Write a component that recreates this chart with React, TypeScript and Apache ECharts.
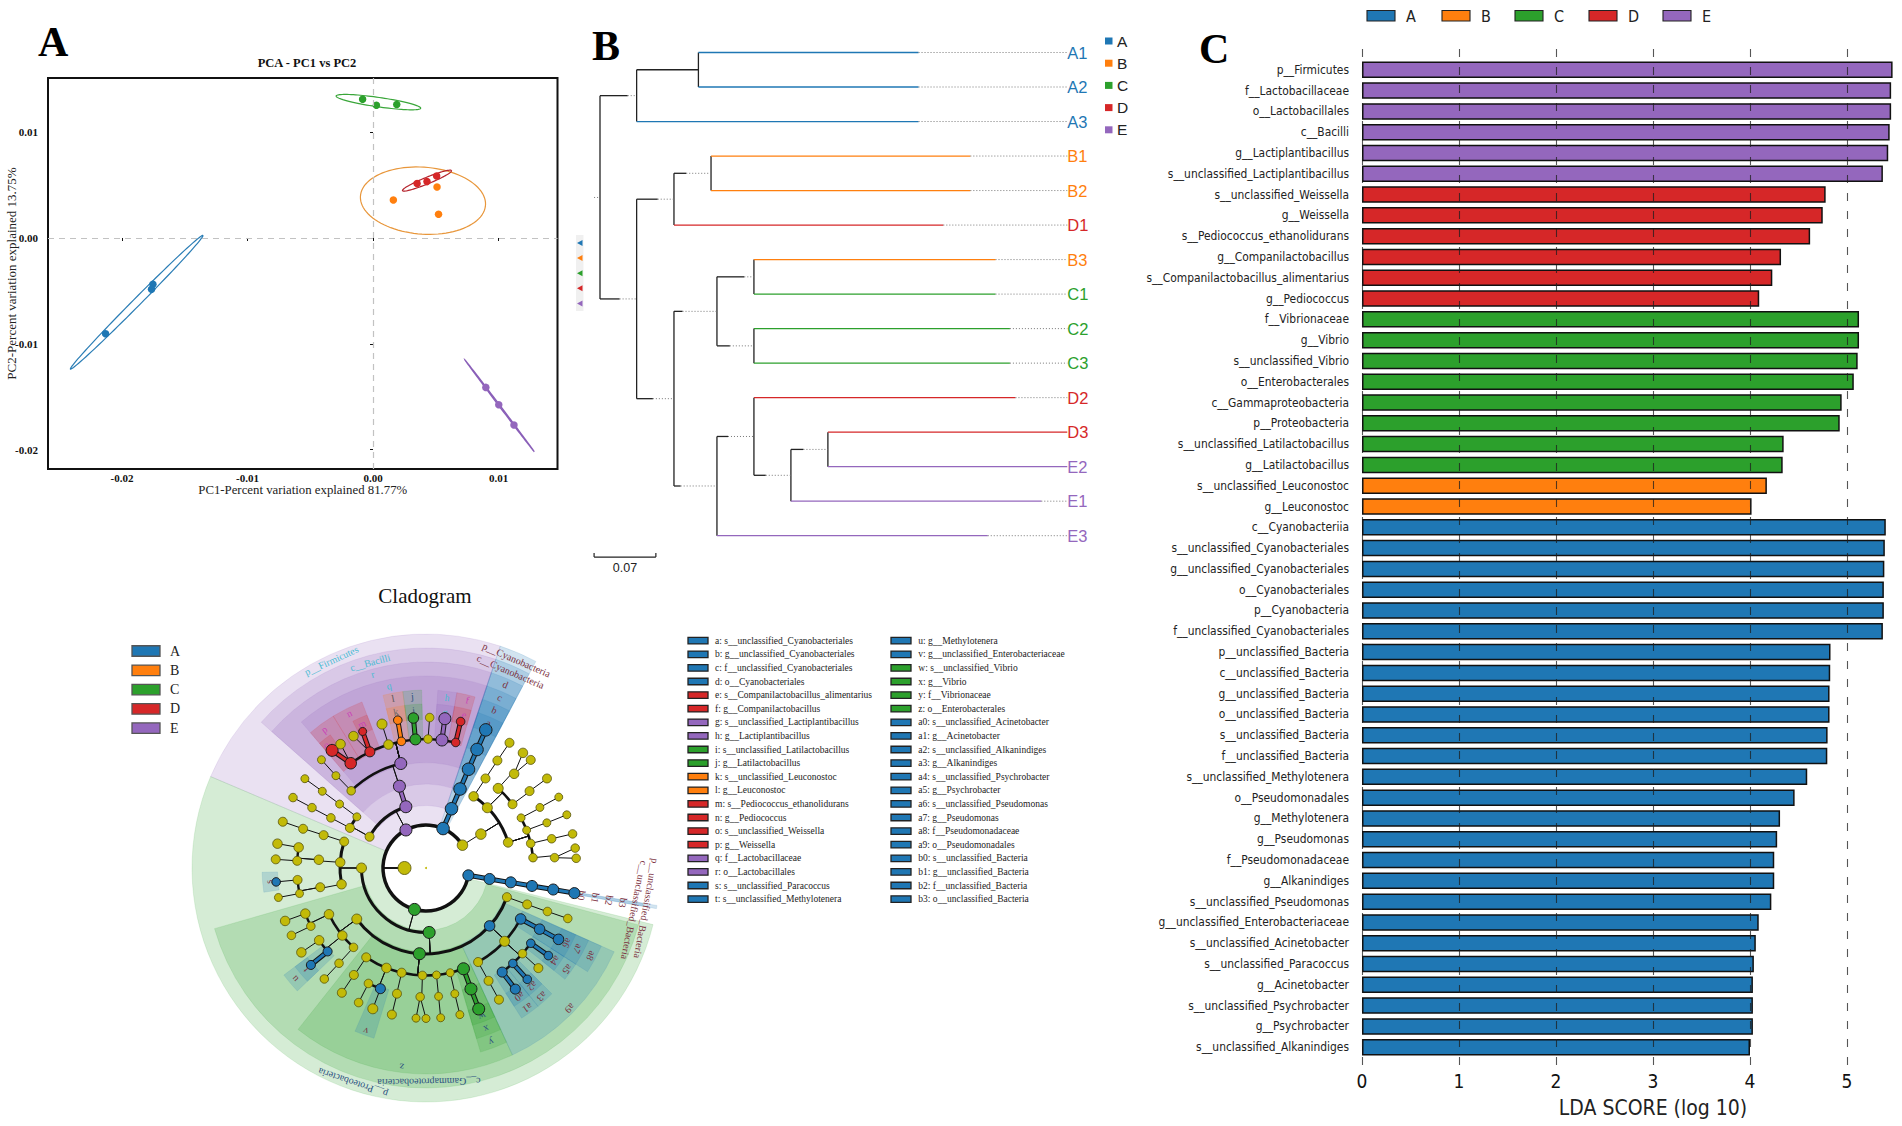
import React, { useEffect, useRef } from "react";
import * as echarts from "echarts";

const SERIF = "Liberation Serif";
const SANS = "Liberation Sans";
const NARROW = "DejaVu Sans Condensed, Liberation Sans Narrow, DejaVu Sans";

const groupNames = ["A", "B", "C", "D", "E"];
const groupColors: Record<string, string> = { A: "#1f77b4", B: "#ff7f0e", C: "#2ca02c", D: "#d62728", E: "#9467bd", y: "#c2ba08" };

/* ---------- Panel A: PCA ---------- */
const pcaPoints: Record<string, number[][]> = {
  A: [[-0.01754, -0.00438], [-0.01765, -0.00485], [-0.02131, -0.00905]],
  B: [[0.00162, 0.00359], [0.0051, 0.00482], [0.00522, 0.00224]],
  C: [[-0.00083, 0.01311], [0.00027, 0.01254], [0.00189, 0.01261]],
  D: [[0.00351, 0.00514], [0.0043, 0.00533], [0.00507, 0.00586]],
  E: [[0.00899, -0.01412], [0.01002, -0.01576], [0.01123, -0.01768]],
};
// centre x, centre y, then two conjugate radius vectors of each confidence ellipse
const pcaEllipses: Record<string, number[]> = {
  A: [-0.01883, -0.00607, 0.00528, 0.00632, 0.00024, -0.00022],
  B: [0.00398, 0.00353, 0.00498, -0.00016, -0.00024, 0.00318],
  C: [0.00043, 0.01284, 0.00337, -0.00058, -0.00006, -0.00044],
  D: [0.0043, 0.00542, 0.00195, 0.00095, 0.00012, -0.00028],
  E: [0.01008, -0.01585, 0.00277, -0.00435, 0.00004, 0.00003],
};
const pcaEllipseColors: Record<string, string> = { A: "#2a7db5", B: "#e8963a", C: "#3aa63a", D: "#b5232c", E: "#8a5fb8" };
const pcaXTicks = [-0.02, -0.01, 0, 0.01];
const pcaYTicks = [-0.02, -0.01, 0, 0.01];

/* ---------- Panel B: tree ---------- */
const treeTipDepth = 0.5294;
// label, group, row, depth of parent, depth of leaf
const treeLeaves: [string, string, number, number, number][] = [
  ["A1", "A", 0, 0.1115, 0.3609],
  ["A2", "A", 1, 0.1115, 0.3609],
  ["A3", "A", 2, 0.0415, 0.3609],
  ["B1", "B", 3, 0.1258, 0.4196],
  ["B2", "B", 4, 0.1258, 0.4196],
  ["D1", "D", 5, 0.0838, 0.389],
  ["B3", "B", 6, 0.1744, 0.4481],
  ["C1", "C", 7, 0.1744, 0.4481],
  ["C2", "C", 8, 0.1744, 0.4644],
  ["C3", "C", 9, 0.1744, 0.4644],
  ["D2", "D", 10, 0.1744, 0.4707],
  ["D3", "D", 11, 0.2582, 0.5294],
  ["E2", "E", 12, 0.2582, 0.5294],
  ["E1", "E", 13, 0.2163, 0.5],
  ["E3", "E", 14, 0.1325, 0.4393],
];
// parent depth, end of solid stem, node depth, row of stem, top row, bottom row
const treeNodes: number[][] = [
  [0, 0.0314, 0.0415, 1.25, 0.5, 2],
  [0.0415, 0.1115, 0.1115, 0.5, 0, 1],
  [0, 0.0222, 0.0415, 7.14, 4.25, 10.03],
  [0.0415, 0.0654, 0.0838, 4.25, 3.5, 5],
  [0.0838, 0.0977, 0.1258, 3.5, 3, 4],
  [0.0415, 0.0599, 0.0838, 10.03, 7.5, 12.56],
  [0.0838, 0.0935, 0.1325, 7.5, 6.5, 8.5],
  [0.1325, 0.1635, 0.1744, 6.5, 6, 7],
  [0.1325, 0.1471, 0.1744, 8.5, 8, 9],
  [0.0838, 0.0914, 0.1325, 12.56, 11.125, 14],
  [0.1325, 0.145, 0.1744, 11.125, 10, 12.25],
  [0.1744, 0.1878, 0.2163, 12.25, 11.5, 13],
  [0.2163, 0.2305, 0.2582, 11.5, 11, 12],
];
const treeRoot = [-0.0067, 0, 4.2, 1.25, 7.14];
const treeScale = { from: -0.0067, to: 0.0633, row: 14.62, label: "0.07" };

/* ---------- Cladogram: level, angle (deg clockwise from top), group, node size ---------- */
const cladoRoot: [number, number, string, number][] = [[0, 0, "y", 2], [1, 270, "y", 13]];
const cladoUnclassified: [number, number, string, number][] = [
  [2, 99.8, "A", 11], [3, 99.8, "A", 11], [4, 99.6, "A", 11], [5, 99.6, "A", 11], [6, 99.6, "A", 11], [7, 99.6, "A", 11],
];
const cladoProteobacteria: [number, number, string, number][] = [
  [2, 195.5, "C", 12],
  [3, 270, "y", 10],
  [4, 287.9, "y", 9], [5, 287.8, "y", 9], [6, 287.7, "y", 9], [7, 287.9, "y", 9],
  [4, 273.8, "y", 9.5], [5, 274.4, "y", 9.5], [6, 279.2, "y", 9.5], [7, 279.3, "y", 9.5], [6, 273.2, "y", 9], [7, 273.3, "y", 9],
  [4, 259.1, "y", 9.5], [5, 259.7, "y", 9], [6, 264.7, "y", 9], [7, 264.7, "A", 8.5], [6, 258.6, "y", 8], [7, 258.7, "y", 8],
  [3, 177.2, "C", 12],
  [4, 233.6, "y", 10],
  [5, 244.5, "y", 9.5], [6, 249.3, "y", 9.5], [7, 249.4, "y", 9.5], [6, 243.2, "y", 8.5], [7, 243.4, "y", 8.5],
  [5, 231.1, "y", 9.5], [6, 235.9, "y", 9.5], [7, 235.9, "y", 9.5], [6, 229.7, "A", 9], [7, 229.9, "A", 9],
  [5, 222.4, "y", 8.5], [6, 222.4, "y", 8.5], [7, 222.5, "y", 8.5],
  [4, 184.4, "C", 12],
  [5, 213.8, "y", 9], [6, 214, "y", 9], [7, 214, "y", 9],
  [5, 201.6, "y", 9.5], [6, 206.5, "y", 8.5], [7, 206.6, "y", 8.5], [6, 200.7, "A", 10], [7, 200.7, "y", 10],
  [5, 193.1, "y", 9], [6, 193, "y", 9], [7, 193.1, "y", 9],
  [5, 181.9, "y", 8.5], [6, 182.6, "y", 8.5], [7, 183.8, "y", 8], [7, 180, "y", 8],
  [5, 174.4, "y", 8], [6, 174.4, "y", 8], [7, 174.4, "y", 8],
  [5, 167, "y", 8], [6, 167.1, "y", 8], [7, 167, "y", 8],
  [5, 159.6, "C", 12], [6, 159.6, "C", 12], [7, 159.5, "C", 12],
  [4, 132.3, "A", 10.5],
  [5, 118.3, "A", 10.5], [6, 118.3, "A", 10.5], [7, 118.3, "A", 10.5],
  [5, 133, "y", 10],
  [6, 125.7, "A", 8.5], [7, 125.6, "A", 8.5],
  [6, 131.6, "y", 8.5], [7, 131.7, "y", 9],
  [6, 137.7, "A", 8.5], [7, 137.7, "A", 8.5],
  [6, 143.8, "A", 10], [7, 143.6, "A", 10],
  [5, 151, "y", 9], [6, 151, "y", 9], [7, 151, "y", 9],
  [4, 109.8, "y", 9], [5, 109.8, "y", 9], [6, 109.7, "y", 8.5], [7, 109.6, "y", 8.5],
];
const cladoFirmicutes: [number, number, string, number][] = [
  [2, 332.2, "E", 12],
  [3, 299, "y", 9],
  [4, 297.8, "y", 9], [5, 297.8, "y", 8.5], [6, 297.9, "y", 8.5], [7, 297.9, "y", 8.5],
  [4, 306.5, "y", 8], [5, 306.5, "y", 8], [6, 306.5, "y", 8], [7, 306.4, "y", 8],
  [3, 341.8, "E", 12],
  [4, 342, "E", 12],
  [5, 315.9, "y", 8.5], [6, 315.7, "y", 8], [7, 316, "y", 8],
  [5, 346.4, "E", 12],
  [6, 324.3, "D", 11.5], [7, 321.4, "D", 12], [7, 325.4, "y", 9.5],
  [6, 334.2, "D", 10], [7, 335.1, "D", 8], [7, 331.2, "y", 9.5],
  [6, 343.1, "y", 9.5], [7, 343, "y", 10],
  [6, 349, "B", 8.5], [7, 349.2, "B", 8.5],
  [6, 355.3, "C", 11], [7, 355.2, "C", 10.5],
  [6, 360.9, "y", 8.5], [7, 361.4, "y", 8.5],
  [6, 367.1, "E", 12], [7, 367.2, "E", 12],
  [6, 373.3, "D", 8.5], [7, 373.3, "D", 8.5],
];
const cladoCyanobacteria: [number, number, string, number][] = [
  [2, 383.4, "A", 12.5], [3, 383.3, "A", 12.5], [4, 383.3, "A", 12.5], [5, 383.3, "A", 12.5], [6, 383.3, "A", 12.5], [7, 383.4, "A", 12.5],
];
const cladoOtherPhylum: [number, number, string, number][] = [
  [2, 418, "y", 10.5], [3, 418.3, "y", 10.5],
  [4, 393.6, "y", 9.5], [5, 393.6, "y", 9], [6, 393.6, "y", 9], [7, 393.7, "y", 9],
  [4, 405.5, "y", 10], [5, 402.2, "y", 10], [6, 403.1, "y", 9.5], [7, 400.1, "y", 9.5], [7, 404.1, "y", 9],
  [5, 413.6, "y", 9], [6, 413.4, "y", 9], [7, 413.5, "y", 9],
  [4, 432.7, "y", 9.5],
  [5, 422.2, "y", 8], [6, 422, "y", 8], [7, 421.9, "y", 8],
  [5, 429.4, "y", 8], [6, 429.5, "y", 8], [7, 429.3, "y", 8],
  [5, 436.8, "y", 8.5], [6, 436.9, "y", 8.5], [7, 436.9, "y", 8.5],
  [5, 444.5, "y", 8.5], [6, 445.4, "y", 8.5], [7, 442.4, "y", 8.5], [7, 446.3, "y", 8.5],
];
const cladoRows = [...cladoRoot, ...cladoUnclassified, ...cladoProteobacteria, ...cladoFirmicutes, ...cladoCyanobacteria, ...cladoOtherPhylum];

// level, from angle, to angle, group
const cladoSectors: [number, number, number, string][] = [
  [2, 293, 378.5, "E"], [2, 104, 293, "C"], [2, 378.5, 388, "A"], [2, 99.2, 100, "A"], [3, 99.2, 100, "A"],
  [3, 311.5, 378.5, "E"], [3, 105, 254, "C"], [3, 378.5, 388, "A"],
  [4, 311.5, 378.5, "E"], [4, 378.5, 388, "A"], [4, 155.2, 218.4, "C"], [4, 114, 155.2, "A"],
  [5, 319.5, 378.5, "E"], [5, 378.5, 388, "A"], [5, 155.2, 163.5, "C"], [5, 114, 122.7, "A"],
  [6, 319.5, 328.6, "D"], [7, 319.5, 324.3, "D"], [6, 328.6, 338.9, "D"], [7, 333.5, 338.9, "D"],
  [6, 346, 352.5, "B"], [7, 346, 352.5, "B"], [6, 352.5, 358.6, "C"], [7, 352.5, 358.6, "C"],
  [6, 363.8, 370, "E"], [7, 363.8, 370, "E"], [6, 370, 376, "D"], [7, 370, 376, "D"],
  [6, 378.5, 388, "A"], [7, 378.5, 388, "A"],
  [6, 155.2, 163.5, "C"], [7, 155.2, 163.5, "C"], [6, 114, 122.7, "A"], [7, 114, 122.7, "A"],
  [6, 122.7, 128.7, "A"], [7, 122.7, 128.7, "A"], [6, 135, 141, "A"], [7, 135, 141, "A"], [6, 141, 147.5, "A"], [7, 141, 147.5, "A"],
  [6, 226.3, 233, "A"], [7, 226.3, 233, "A"], [6, 197, 203.5, "A"], [7, 261.5, 268.5, "A"],
];
const cyan = "#4bbcd2", magenta = "#c944b8", maroon = "#7b3040", navy = "#2a4f80";
// text, radius, angle, colour
const cladoLabels: [string, number, number, string][] = [
  ["p__Firmicutes", 228, 335.5, cyan], ["c__Bacilli", 213, 344.8, cyan], ["r", 201, 344.6, cyan], ["q", 186, 348.5, cyan],
  ["l", 173, 349, "#555"], ["j", 172.5, 355.5, navy], ["k", 159, 349, "#666"], ["i", 158, 355.5, navy],
  ["n", 172.7, 333.6, magenta], ["p", 172, 323.7, magenta], ["m", 157.6, 336, magenta], ["o", 158.5, 320.9, magenta],
  ["h", 171.7, 7.1, cyan], ["f", 173, 13.9, magenta], ["g", 157, 7, cyan], ["e", 158, 14, magenta],
  ["d", 200, 23.4, maroon], ["c", 186, 23.4, maroon], ["b", 172, 23.4, maroon], ["a", 158, 23.4, maroon],
  ["p__Cyanobacteria", 227, 23.5, maroon], ["c__Cyanobacteria", 213.8, 23.3, maroon],
  ["p__unclassified_Bacteria", 224, 100.4, maroon], ["c__unclassified_Bacteria", 212.5, 101.4, maroon],
  ["b0", 158, 100, maroon], ["b1", 172, 100, maroon], ["b2", 186, 100, maroon], ["b3", 200, 100, maroon],
  ["p__Proteobacteria", 227, 198.8, navy], ["c__Gammaproteobacteria", 214, 179.2, navy], ["z", 200.8, 187, navy],
  ["y", 186, 159.4, navy], ["x", 172, 159.4, navy], ["w", 159, 159.2, navy],
  ["a9", 201, 134.3, maroon], ["a8", 187, 118, maroon], ["a7", 172, 118, maroon], ["a6", 160, 118, maroon],
  ["a5", 174, 125.6, maroon], ["a4", 159, 125.6, maroon], ["a3", 173, 138, maroon], ["a2", 159, 138, maroon],
  ["a1", 173, 144, maroon], ["a0", 159, 144, maroon],
  ["s", 158, 265, maroon], ["u", 172, 229.8, maroon], ["t", 158, 229.8, maroon], ["v", 174, 200.3, maroon],
];
const cladoKeyColumn1: [string, string][] = [
  ["a: s__unclassified_Cyanobacteriales", "A"], ["b: g__unclassified_Cyanobacteriales", "A"], ["c: f__unclassified_Cyanobacteriales", "A"], ["d: o__Cyanobacteriales", "A"],
  ["e: s__Companilactobacillus_alimentarius", "D"], ["f: g__Companilactobacillus", "D"], ["g: s__unclassified_Lactiplantibacillus", "E"], ["h: g__Lactiplantibacillus", "E"],
  ["i: s__unclassified_Latilactobacillus", "C"], ["j: g__Latilactobacillus", "C"], ["k: s__unclassified_Leuconostoc", "B"], ["l: g__Leuconostoc", "B"],
  ["m: s__Pediococcus_ethanolidurans", "D"], ["n: g__Pediococcus", "D"], ["o: s__unclassified_Weissella", "D"], ["p: g__Weissella", "D"],
  ["q: f__Lactobacillaceae", "E"], ["r: o__Lactobacillales", "E"], ["s: s__unclassified_Paracoccus", "A"], ["t: s__unclassified_Methylotenera", "A"],
];
const cladoKeyColumn2: [string, string][] = [
  ["u: g__Methylotenera", "A"], ["v: g__unclassified_Enterobacteriaceae", "A"], ["w: s__unclassified_Vibrio", "C"], ["x: g__Vibrio", "C"],
  ["y: f__Vibrionaceae", "C"], ["z: o__Enterobacterales", "C"], ["a0: s__unclassified_Acinetobacter", "A"], ["a1: g__Acinetobacter", "A"],
  ["a2: s__unclassified_Alkanindiges", "A"], ["a3: g__Alkanindiges", "A"], ["a4: s__unclassified_Psychrobacter", "A"], ["a5: g__Psychrobacter", "A"],
  ["a6: s__unclassified_Pseudomonas", "A"], ["a7: g__Pseudomonas", "A"], ["a8: f__Pseudomonadaceae", "A"], ["a9: o__Pseudomonadales", "A"],
  ["b0: s__unclassified_Bacteria", "A"], ["b1: g__unclassified_Bacteria", "A"], ["b2: f__unclassified_Bacteria", "A"], ["b3: o__unclassified_Bacteria", "A"],
];

/* ---------- Panel C: LDA bars ---------- */
const ldaNames = [
  "p__Firmicutes", "f__Lactobacillaceae", "o__Lactobacillales", "c__Bacilli", "g__Lactiplantibacillus", "s__unclassified_Lactiplantibacillus",
  "s__unclassified_Weissella", "g__Weissella", "s__Pediococcus_ethanolidurans", "g__Companilactobacillus", "s__Companilactobacillus_alimentarius", "g__Pediococcus",
  "f__Vibrionaceae", "g__Vibrio", "s__unclassified_Vibrio", "o__Enterobacterales", "c__Gammaproteobacteria", "p__Proteobacteria",
  "s__unclassified_Latilactobacillus", "g__Latilactobacillus", "s__unclassified_Leuconostoc", "g__Leuconostoc",
  "c__Cyanobacteriia", "s__unclassified_Cyanobacteriales", "g__unclassified_Cyanobacteriales", "o__Cyanobacteriales", "p__Cyanobacteria", "f__unclassified_Cyanobacteriales",
  "p__unclassified_Bacteria", "c__unclassified_Bacteria", "g__unclassified_Bacteria", "o__unclassified_Bacteria", "s__unclassified_Bacteria", "f__unclassified_Bacteria",
  "s__unclassified_Methylotenera", "o__Pseudomonadales", "g__Methylotenera", "g__Pseudomonas", "f__Pseudomonadaceae", "g__Alkanindiges", "s__unclassified_Pseudomonas",
  "g__unclassified_Enterobacteriaceae", "s__unclassified_Acinetobacter", "s__unclassified_Paracoccus", "g__Acinetobacter", "s__unclassified_Psychrobacter", "g__Psychrobacter", "s__unclassified_Alkanindiges",
];
const ldaValues = [
  5.47, 5.455, 5.455, 5.44, 5.425, 5.37, 4.78, 4.75, 4.62, 4.32, 4.23, 4.095,
  5.124, 5.124, 5.11, 5.07, 4.945, 4.925, 4.347, 4.337, 4.174, 4.016,
  5.4, 5.39, 5.385, 5.38, 5.38, 5.37, 4.83, 4.827, 4.82, 4.82, 4.8, 4.797,
  4.59, 4.46, 4.31, 4.28, 4.25, 4.25, 4.22, 4.09, 4.06, 4.04, 4.03, 4.03, 4.03, 4.0,
];
const ldaGroups = "EEEEEEDDDDDDCCCCCCCCBB" + "A".repeat(26);

/* ---------- builders ---------- */
const levelRadius = (k: number) => 21.5 * k;
const sectorInner = (k: number) => levelRadius(k) - (k === 2 ? 0 : 2);
const sectorOuter = (k: number) => 234 - (k - 2) * 14;
const toRad = (a: number) => ((a - 90) * Math.PI) / 180;

type Edge = { level: number; pAngle: number; angle: number; group: string; pGroup: string };
function buildClado() {
  const stack: (typeof cladoRows)[number][] = [];
  const edges: Edge[] = [];
  const arcs = new Map<(typeof cladoRows)[number], { level: number; lo: number; hi: number }>();
  cladoRows.forEach((row) => {
    const [level, angle, group] = row;
    stack[level] = row;
    if (level < 2) return;
    const parent = stack[level - 1];
    edges.push({ level, pAngle: parent[1], angle, group, pGroup: parent[2] });
    if (level < 7) {
      const a = arcs.get(parent) || { level, lo: Math.min(parent[1], angle), hi: Math.max(parent[1], angle) };
      a.lo = Math.min(a.lo, angle);
      a.hi = Math.max(a.hi, angle);
      arcs.set(parent, a);
    }
  });
  return { edges, arcs: Array.from(arcs.values()) };
}

function legendKeys(rows: [string, string][], rectX: number, textX: number, top: number, step: number, w: number, h: number, font: number, border: string) {
  const out: any[] = [];
  rows.forEach(([label, g], i) => {
    const y = top + i * step;
    out.push({ type: "rect", shape: { x: rectX, y: y - h / 2, width: w, height: h }, style: { fill: groupColors[g], stroke: border, lineWidth: 1.3 } });
    out.push({ type: "text", x: textX, y, style: { text: label, fill: "#222", fontFamily: SERIF, fontSize: font, align: "left", verticalAlign: "middle" } });
  });
  return out;
}

function letter(text: string, x: number, y: number) {
  return { type: "text", x, y, style: { text, fill: "#000", fontFamily: SERIF, fontWeight: "bold", fontSize: 42, align: "left", verticalAlign: "middle" } };
}

function buildGraphics() {
  const g: any[] = [letter("A", 38, 42), letter("B", 592, 46), letter("C", 1199, 49)];
  g.push({ type: "text", x: 425, y: 596, style: { text: "Cladogram", fill: "#111", fontFamily: SERIF, fontSize: 21, align: "center", verticalAlign: "middle" } });
  // PCA little key
  g.push({ type: "rect", shape: { x: 576, y: 235, width: 7.5, height: 76 }, style: { fill: "#f0f0f0" } });
  groupNames.forEach((n, i) => {
    const y = 243 + i * 15.1;
    g.push({ type: "polygon", shape: { points: [[577, y], [582.5, y - 3], [582.5, y + 3]] }, style: { fill: groupColors[n] } });
  });
  // tree key
  groupNames.forEach((n, i) => {
    const y = 41 + i * 22.2;
    g.push({ type: "rect", shape: { x: 1105, y: y - 3.5, width: 7.5, height: 7 }, style: { fill: groupColors[n] } });
    g.push({ type: "text", x: 1117, y, style: { text: n, fill: "#222", fontFamily: SANS, fontSize: 15.5, align: "left", verticalAlign: "middle" } });
  });
  // cladogram keys
  g.push(...legendKeys(groupNames.map((n) => [n, n] as [string, string]), 132, 170, 651, 19.3, 28, 10.5, 14, "#555"));
  g.push(...legendKeys(cladoKeyColumn1, 688, 715, 640.7, 13.6, 20, 6.5, 9.5, "#222"));
  g.push(...legendKeys(cladoKeyColumn2, 891, 918.3, 640.7, 13.6, 20, 6.5, 9.5, "#222"));
  // LDA key
  const ldaKeyX = [1367, 1442, 1515, 1589, 1663];
  groupNames.forEach((n, i) => {
    g.push({ type: "rect", shape: { x: ldaKeyX[i], y: 10.5, width: 28, height: 10.5 }, style: { fill: groupColors[n], stroke: "#222", lineWidth: 1.1 } });
    g.push({ type: "text", x: ldaKeyX[i] + 39, y: 16, style: { text: n, fill: "#222", fontFamily: NARROW, fontSize: 16, align: "left", verticalAlign: "middle" } });
  });
  return g;
}

function buildOption() {
  const { edges, arcs } = buildClado();
  const line = (p1: number[], p2: number[], stroke: string, lineWidth: number, lineDash?: number[]) => ({
    type: "line",
    shape: { x1: p1[0], y1: p1[1], x2: p2[0], y2: p2[1] },
    style: { stroke, lineWidth, lineDash, fill: "none" },
  });
  const treeBlack = "#222", treeDot = "#777", dots = [1, 2];

  const series: any[] = [];
  // PCA ellipses and points
  series.push({
    type: "custom", xAxisIndex: 0, yAxisIndex: 0, silent: true, z: 3,
    data: groupNames.map((n) => pcaEllipses[n]),
    renderItem: (params: any, api: any) => {
      const e = pcaEllipses[groupNames[params.dataIndex]];
      const pts: number[][] = [];
      for (let i = 0; i <= 96; i++) {
        const t = (i / 96) * 2 * Math.PI;
        pts.push(api.coord([e[0] + e[2] * Math.cos(t) + e[4] * Math.sin(t), e[1] + e[3] * Math.cos(t) + e[5] * Math.sin(t)]));
      }
      return { type: "polyline", shape: { points: pts }, style: { stroke: pcaEllipseColors[groupNames[params.dataIndex]], lineWidth: 1.2, fill: "none" } };
    },
  });
  groupNames.forEach((n, i) => {
    series.push({
      type: "scatter", xAxisIndex: 0, yAxisIndex: 0, symbolSize: 7.5, z: 4, silent: true, name: n,
      itemStyle: { color: groupColors[n], opacity: 1 },
      data: pcaPoints[n],
      ...(i === 0
        ? {
            markLine: {
              silent: true, symbol: "none", label: { show: false }, animation: false,
              lineStyle: { color: "#c2c2c2", type: [6, 5], width: 1.2 },
              data: [{ xAxis: 0 }, { yAxis: 0 }],
            },
          }
        : {}),
    });
  });
  // Tree
  series.push({
    type: "custom", xAxisIndex: 1, yAxisIndex: 1, silent: true, z: 3,
    data: treeNodes.map((n) => [n[2], n[3]]),
    renderItem: (params: any, api: any) => {
      const [pd, solid, d, y, top, bottom] = treeNodes[params.dataIndex];
      const c = (a: number, b: number) => api.coord([a, b]);
      const kids: any[] = [line(c(d, top), c(d, bottom), treeBlack, 1.3), line(c(pd, y), c(solid, y), treeBlack, 1.3)];
      if (solid < d) kids.push(line(c(solid, y), c(d, y), treeDot, 1, dots));
      return { type: "group", children: kids };
    },
  });
  series.push({
    type: "custom", xAxisIndex: 1, yAxisIndex: 1, silent: true, z: 3,
    data: treeLeaves.map((l) => [l[4], l[2]]),
    renderItem: (params: any, api: any) => {
      const [label, g, row, pd, d] = treeLeaves[params.dataIndex];
      const c = (a: number, b: number) => api.coord([a, b]);
      const end = c(treeTipDepth, row);
      const kids: any[] = [line(c(pd, row), c(d, row), groupColors[g], 1.3)];
      if (d < treeTipDepth) kids.push(line(c(d, row), end, treeDot, 1, dots));
      kids.push({ type: "text", x: end[0], y: end[1], style: { text: label, fill: groupColors[g], fontFamily: SANS, fontSize: 16.5, align: "left", verticalAlign: "middle" } });
      return { type: "group", children: kids };
    },
  });
  series.push({
    type: "custom", xAxisIndex: 1, yAxisIndex: 1, silent: true, z: 3,
    data: [[treeRoot[0], treeRoot[2]], [treeScale.from, treeScale.row]],
    renderItem: (params: any, api: any) => {
      const c = (a: number, b: number) => api.coord([a, b]);
      if (params.dataIndex === 0) {
        return {
          type: "group",
          children: [line(c(treeRoot[0], treeRoot[2]), c(treeRoot[1], treeRoot[2]), treeDot, 1, dots), line(c(0, treeRoot[3]), c(0, treeRoot[4]), treeBlack, 1.3)],
        };
      }
      const a = c(treeScale.from, treeScale.row), b = c(treeScale.to, treeScale.row);
      return {
        type: "group",
        children: [
          line(a, b, "#222", 1.2), line([a[0], a[1] - 4], a, "#222", 1.2), line([b[0], b[1] - 4], b, "#222", 1.2),
          { type: "text", x: (a[0] + b[0]) / 2, y: a[1] + 11, style: { text: treeScale.label, fill: "#222", fontFamily: SANS, fontSize: 12.5, align: "center", verticalAlign: "middle" } },
        ],
      };
    },
  });
  // Cladogram sectors
  series.push({
    type: "custom", coordinateSystem: "polar", polarIndex: 0, silent: true, z: 1,
    data: cladoSectors.map((s) => [sectorOuter(s[0]), s[1]]),
    renderItem: (params: any, api: any) => {
      const [k, from, to, g] = cladoSectors[params.dataIndex];
      const cx = params.coordSys.cx, cy = params.coordSys.cy;
      const rad = (v: number) => { const p = api.coord([v, 0]); return Math.hypot(p[0] - cx, p[1] - cy); };
      return {
        type: "sector",
        shape: { cx, cy, r0: rad(sectorInner(k)), r: rad(sectorOuter(k)), startAngle: toRad(from), endAngle: toRad(to), clockwise: true },
        style: { fill: groupColors[g], opacity: 0.2, stroke: groupColors[g], lineWidth: 0.6 },
      };
    },
  });
  // Cladogram labels
  series.push({
    type: "custom", coordinateSystem: "polar", polarIndex: 0, silent: true, z: 2,
    data: cladoLabels.map((l) => [l[1], l[2]]),
    renderItem: (params: any, api: any) => {
      const [text, r, a, color] = cladoLabels[params.dataIndex];
      const p = api.coord([r, a]);
      return {
        type: "text", x: p[0], y: p[1], rotation: (-a * Math.PI) / 180,
        style: { text, fill: color, fontFamily: SERIF, fontSize: 10, align: "center", verticalAlign: "middle" },
      };
    },
  });
  // Cladogram arcs
  series.push({
    type: "custom", coordinateSystem: "polar", polarIndex: 0, silent: true, z: 3,
    data: arcs.map((a) => [levelRadius(a.level), a.lo]),
    renderItem: (params: any, api: any) => {
      const a = arcs[params.dataIndex];
      const cx = params.coordSys.cx, cy = params.coordSys.cy;
      const p = api.coord([levelRadius(a.level), 0]);
      const r = Math.hypot(p[0] - cx, p[1] - cy);
      const widths: Record<number, number> = { 2: 3.5, 3: 3, 4: 3, 5: 2.6, 6: 2.4 };
      return {
        type: "arc",
        shape: { cx, cy, r, startAngle: toRad(a.lo), endAngle: toRad(a.hi), clockwise: true },
        style: { stroke: "#111", lineWidth: widths[a.level], fill: "none" },
      };
    },
  });
  // Cladogram branches
  series.push({
    type: "custom", coordinateSystem: "polar", polarIndex: 0, silent: true, z: 3,
    data: edges.map((e) => [levelRadius(e.level), e.angle]),
    renderItem: (params: any, api: any) => {
      const e = edges[params.dataIndex];
      const from = api.coord([levelRadius(e.level - 1), e.pAngle]);
      const straight = e.level === 7;
      const to = straight ? api.coord([levelRadius(e.level), e.angle]) : api.coord([levelRadius(e.level), e.pAngle]);
      const coloured = e.group !== "y" && e.group === e.pGroup && (straight || Math.abs(e.angle - e.pAngle) < 0.6);
      if (!coloured) return line(from, to, "#111", 1);
      return { type: "group", children: [line(from, to, "#111", 5), line(from, to, groupColors[e.group], 3)] };
    },
  });
  // Cladogram nodes
  series.push({
    type: "scatter", coordinateSystem: "polar", polarIndex: 0, silent: true, z: 4,
    data: cladoRows.map(([level, angle, g, size]) => ({
      value: [levelRadius(level), angle],
      symbolSize: size,
      itemStyle: { color: groupColors[g], borderColor: level === 0 ? "transparent" : g === "y" ? "#55520a" : "#1a1a1a", borderWidth: level === 0 ? 0 : g === "y" ? 0.8 : 1, opacity: 1 },
    })),
  });
  // LDA bars
  series.push({
    type: "bar", xAxisIndex: 2, yAxisIndex: 2, barWidth: 16.5, z: 2, silent: true,
    data: [null, ...ldaValues.map((v, i) => ({ value: v, itemStyle: { color: groupColors[ldaGroups[i]], borderColor: "#111", borderWidth: 1.5 } })), null],
  });

  return {
    animation: false,
    backgroundColor: "#fff",
    title: {
      text: "PCA - PC1 vs PC2", left: 302, top: 51, textAlign: "center",
      textStyle: { fontFamily: SERIF, fontWeight: "bold", fontSize: 12.5, color: "#111" },
    },
    grid: [
      { left: 48, top: 78, width: 509.5, height: 391, show: true, borderColor: "#111", borderWidth: 2, backgroundColor: "transparent", outerBoundsMode: "none" },
      { left: 590, top: 52.5, width: 480, height: 483.2, show: false, outerBoundsMode: "none" },
      { left: 1362, top: 49, width: 582, height: 1019, show: false, outerBoundsMode: "none" },
    ],
    xAxis: [
      {
        type: "value", gridIndex: 0, min: -0.0259, max: 0.0147, splitLine: { show: false }, axisLine: { show: false },
        axisTick: { show: true, length: 3, customValues: pcaXTicks, lineStyle: { color: "#111" } },
        axisLabel: { customValues: pcaXTicks, margin: 3, fontFamily: SERIF, fontWeight: "bold", fontSize: 11, color: "#111", formatter: (v: number) => v.toFixed(2) },
        name: "PC1-Percent variation explained 81.77%", nameLocation: "middle", nameGap: 14, nameMoveOverlap: false,
        nameTextStyle: { fontFamily: SERIF, fontSize: 12.8, color: "#222" },
      },
      { type: "value", gridIndex: 1, min: -0.01133, max: 0.5325, show: false },
      {
        type: "value", gridIndex: 2, min: 0, max: 6, interval: 1, z: 5,
        axisLine: { show: false }, axisTick: { show: false },
        splitLine: { show: true, lineStyle: { color: "rgba(30,30,30,0.75)", width: 1.1, type: [8, 10] } },
        axisLabel: { margin: 3, fontFamily: NARROW, fontSize: 19, color: "#111", showMaxLabel: false },
        name: "LDA SCORE (log 10)", nameLocation: "middle", nameGap: 29, nameMoveOverlap: false,
        nameTextStyle: { fontFamily: NARROW, fontSize: 21, color: "#222" },
      },
    ],
    yAxis: [
      {
        type: "value", gridIndex: 0, min: -0.02183, max: 0.01512, splitLine: { show: false }, axisLine: { show: false },
        axisTick: { show: true, length: 3, customValues: pcaYTicks, lineStyle: { color: "#111" } },
        axisLabel: { customValues: pcaYTicks, margin: 10, fontFamily: SERIF, fontWeight: "bold", fontSize: 11, color: "#111", formatter: (v: number) => v.toFixed(2) },
        name: "PC2-Percent variation explained 13.75%", nameLocation: "middle", nameGap: 30, nameRotate: 90, nameMoveOverlap: false,
        nameTextStyle: { fontFamily: SERIF, fontSize: 13, color: "#222" },
      },
      { type: "value", gridIndex: 1, min: 0, max: 14, inverse: true, show: false },
      {
        type: "category", gridIndex: 2, inverse: true, boundaryGap: false, data: ["", ...ldaNames, ""],
        axisLine: { show: false }, axisTick: { show: false },
        axisLabel: { interval: 0, margin: 13, fontFamily: NARROW, fontSize: 11.9, color: "#222", padding: [8, 0, 0, 0] },
      },
    ],
    polar: { center: [426, 868], radius: [0, 235] },
    radiusAxis: { polarIndex: 0, min: 0, max: 235, show: false },
    angleAxis: { polarIndex: 0, min: 0, max: 360, startAngle: 90, clockwise: true, show: false },
    graphic: { elements: buildGraphics() },
    series,
  };
}

export default function App() {
  const ref = useRef<HTMLDivElement>(null);
  useEffect(() => {
    document.body.style.margin = "0";
    const chart = echarts.init(ref.current!, null, { renderer: "svg" });
    chart.setOption(buildOption() as any);
    return () => chart.dispose();
  }, []);
  return <div ref={ref} style={{ width: 1902, height: 1126, overflow: "hidden" }} />;
}
